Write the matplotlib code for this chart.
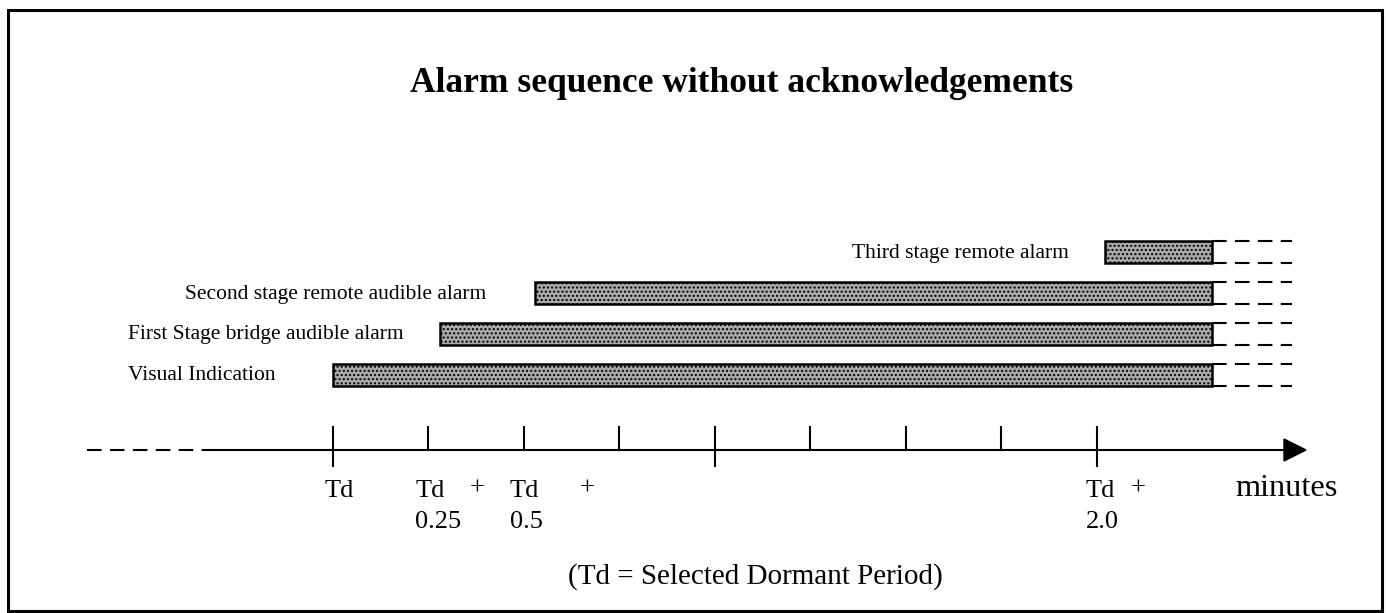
import matplotlib
matplotlib.use('Agg')  # no display
import matplotlib.pyplot as plt
from matplotlib.patches import Rectangle, Polygon

# alarm stages (bottom to top) and their on-times in minutes after Td
alarms = ["Visual Indication",
          "First Stage bridge audible alarm",
          "Second stage remote audible alarm",
          "Third stage remote alarm"]
start_min = [0.0, 0.28, 0.53, 2.02]
end_min = [2.3, 2.3, 2.3, 2.3]

# time axis ticks (minutes after Td)
tick_min = [0.0, 0.25, 0.5, 0.75, 1.0, 1.25, 1.5, 1.75, 2.0]
long_ticks = [0.0, 1.0, 2.0]
label_min = [0.0, 0.25, 0.5, 2.0]
label_top = ["Td", "Td", "Td", "Td"]
label_bottom = ["", "0.25", "0.5", "2.0"]
label_plus = [False, True, True, True]

W, H = 1386, 613
PX_PER_MIN = 382.0
X0 = 333.0  # pixel position of Td


def px(x):
    # pixel column -> minutes
    return (x - X0) / PX_PER_MIN


plt.rcParams['hatch.color'] = '#3a3a3a'
plt.rcParams['hatch.linewidth'] = 1.0

fig = plt.figure(figsize=(W / 100, H / 100), dpi=100)
ax = fig.add_axes([0, 0, 1, 1])
ax.set_xlim(px(0), px(W))
ax.set_ylim(H, 0)
ax.axis('off')

serif = ['Liberation Serif', 'DejaVu Serif']

# outer frame
fig.add_artist(Rectangle((8 / W, 2 / H), 1374 / W, 601 / H, transform=fig.transFigure,
                         fill=False, edgecolor='black', linewidth=2.2))

ax.text(px(742), 84, "Alarm sequence without acknowledgements", ha='center', va='center',
        fontsize=25.5, fontweight='bold', family=serif)

# bars
row_y0, row_gap, bar_h = 374.5, 40.7, 22
label_x = [128, 128, 185, 852]
for i, name in enumerate(alarms):
    yc = row_y0 - row_gap * i
    ax.add_patch(Rectangle((start_min[i], yc - bar_h / 2), end_min[i] - start_min[i], bar_h,
                           facecolor='#aaaaaa', edgecolor='black', linewidth=1.8,
                           hatch='....', zorder=3))
    for yy in (yc - bar_h / 2, yc + bar_h / 2):
        ax.plot([end_min[i], px(1292)], [yy, yy], color='black', lw=1.5,
                dashes=(7, 4), zorder=2)
    ax.text(px(label_x[i]), yc + 1, name, ha='left', va='center', fontsize=15.5, family=serif)

# time axis
axis_y = 450
ax.plot([px(87), px(213)], [axis_y, axis_y], color='black', lw=1.5, dashes=(7, 4))
ax.plot([px(213), px(1290)], [axis_y, axis_y], color='black', lw=1.5)
ax.add_patch(Polygon([[px(1284), axis_y - 11], [px(1306), axis_y], [px(1284), axis_y + 11]],
                     closed=True, color='black'))
for t in tick_min:
    bottom = 466 if t in long_ticks else axis_y
    ax.plot([t, t], [427, bottom], color='black', lw=1.5)

td_offset = {0.0: -8, 0.25: -13, 0.5: -14, 2.0: -11}
plus_offset = {0.25: 41, 0.5: 56, 2.0: 34}
for t, top, bot, plus in zip(label_min, label_top, label_bottom, label_plus):
    x_left = t + td_offset[t] / PX_PER_MIN
    ax.text(x_left, 491, top, ha='left', va='center', fontsize=19, family=serif)
    if bot:
        ax.text(x_left, 522, bot, ha='left', va='center', fontsize=19, family=serif)
    if plus:
        ax.text(t + plus_offset[t] / PX_PER_MIN, 489, "+", ha='left', va='center',
                fontsize=19, family=serif)

ax.text(px(1235), 488, "minutes", ha='left', va='center', fontsize=23.3, family=serif)
ax.text(px(755), 577, "(Td = Selected Dormant Period)", ha='center', va='center',
        fontsize=21, family=serif)

fig.savefig('out.png', dpi=100)
